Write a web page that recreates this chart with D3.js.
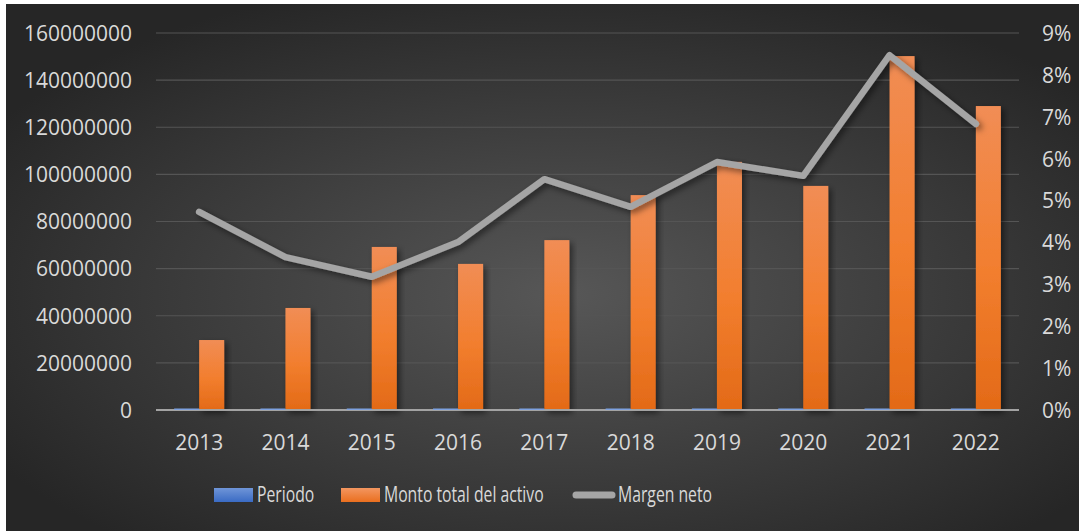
<!DOCTYPE html>
<html>
<head>
<meta charset="utf-8">
<script src="https://cdn.jsdelivr.net/npm/d3@7"></script>
<style>
  html, body { margin: 0; padding: 0; background: #fff; }
  svg { display: block; }
  text { font-family: "Open Sans", "DejaVu Sans", sans-serif; }
</style>
</head>
<body>
<div class="container"></div>
<script>
const width = 1079;
const height = 531;

// datos
const years = ['2013', '2014', '2015', '2016', '2017', '2018', '2019', '2020', '2021', '2022'];
const periodo = [2013, 2014, 2015, 2016, 2017, 2018, 2019, 2020, 2021, 2022];
const montoActivo = [29700000, 43300000, 69200000, 62000000, 72100000, 91200000, 105300000, 95100000, 150200000, 129000000];
const margenNeto = [0.0473, 0.0365, 0.0318, 0.0401, 0.0551, 0.0485, 0.0592, 0.0559, 0.0847, 0.0683];
const leftTicks = [0, 20000000, 40000000, 60000000, 80000000, 100000000, 120000000, 140000000, 160000000];
const rightTicks = [0, 0.01, 0.02, 0.03, 0.04, 0.05, 0.06, 0.07, 0.08, 0.09];
const seriesNames = ['Periodo', 'Monto total del activo', 'Margen neto'];

const plot = { left: 156, right: 1019, top: 33, bottom: 410 };

const svg = d3.select('.container')
  .append('svg')
  .attr('width', width)
  .attr('height', height);

const defs = svg.append('defs');

// fondo degradado
const bg = defs.append('radialGradient')
  .attr('id', 'bg')
  .attr('cx', '52%').attr('cy', '55%').attr('r', '62%');
bg.append('stop').attr('offset', '0%').attr('stop-color', '#575757');
bg.append('stop').attr('offset', '100%').attr('stop-color', '#262626');

const barGrad = defs.append('linearGradient')
  .attr('id', 'barGrad')
  .attr('x1', 0).attr('y1', 0).attr('x2', 0).attr('y2', 1);
barGrad.append('stop').attr('offset', '0%').attr('stop-color', '#f18d55');
barGrad.append('stop').attr('offset', '55%').attr('stop-color', '#f27e2e');
barGrad.append('stop').attr('offset', '100%').attr('stop-color', '#e36a17');

const blueGrad = defs.append('linearGradient')
  .attr('id', 'blueGrad')
  .attr('x1', 0).attr('y1', 0).attr('x2', 0).attr('y2', 1);
blueGrad.append('stop').attr('offset', '0%').attr('stop-color', '#6f95d8');
blueGrad.append('stop').attr('offset', '100%').attr('stop-color', '#3a6bc4');

const legendBarGrad = defs.append('linearGradient')
  .attr('id', 'legendBarGrad')
  .attr('x1', 0).attr('y1', 0).attr('x2', 0).attr('y2', 1);
legendBarGrad.append('stop').attr('offset', '0%').attr('stop-color', '#f39660');
legendBarGrad.append('stop').attr('offset', '100%').attr('stop-color', '#ea6f1f');

const shadow = defs.append('filter')
  .attr('id', 'shadow')
  .attr('x', '-30%').attr('y', '-30%').attr('width', '160%').attr('height', '160%');
shadow.append('feDropShadow')
  .attr('dx', 3).attr('dy', 3)
  .attr('stdDeviation', 3)
  .attr('flood-color', '#000')
  .attr('flood-opacity', 0.5);

svg.append('rect')
  .attr('x', 6).attr('y', 4)
  .attr('width', width - 6).attr('height', height - 4)
  .attr('fill', 'url(#bg)');

// escalas
const x = d3.scaleBand()
  .domain(years)
  .range([plot.left, plot.right]);

const barW = x.bandwidth() * 0.29;
const x1 = d3.scaleBand()
  .domain(['periodo', 'monto'])
  .range([-barW, barW]);

const yLeft = d3.scaleLinear()
  .domain([0, 160000000])
  .range([plot.bottom, plot.top]);

const yRight = d3.scaleLinear()
  .domain([0, 0.09])
  .range([plot.bottom, plot.top]);

const labelColor = '#d9d9d9';

// lineas de division
svg.append('g')
  .selectAll('line')
  .data(leftTicks.slice(1))
  .join('line')
  .attr('x1', plot.left).attr('x2', plot.right)
  .attr('y1', d => yLeft(d)).attr('y2', d => yLeft(d))
  .attr('stroke', '#555555')
  .attr('stroke-width', 1.2);

// eje izquierdo
const axisLeft = svg.append('g')
  .attr('transform', `translate(${plot.left - 24},0)`)
  .call(d3.axisLeft(yLeft).tickValues(leftTicks).tickFormat(d3.format('d')).tickSize(0).tickPadding(0));
axisLeft.select('.domain').remove();
axisLeft.selectAll('text')
  .attr('fill', labelColor)
  .attr('font-size', '21px')
  .attr('dy', '0.35em');

// eje derecho
const axisRight = svg.append('g')
  .attr('transform', `translate(${plot.right + 23},0)`)
  .call(d3.axisRight(yRight).tickValues(rightTicks).tickFormat(d3.format('.0%')).tickSize(0).tickPadding(0));
axisRight.select('.domain').remove();
axisRight.selectAll('text')
  .attr('fill', labelColor)
  .attr('font-size', '21px')
  .attr('dy', '0.35em');

// eje x
const axisBottom = svg.append('g')
  .attr('transform', `translate(0,${plot.bottom + 25})`)
  .call(d3.axisBottom(x).tickSize(0).tickPadding(0));
axisBottom.select('.domain').remove();
axisBottom.selectAll('text')
  .attr('fill', labelColor)
  .attr('font-size', '21px')
  .attr('dy', '0.7em');

// barras monto
svg.append('g')
  .selectAll('rect')
  .data(montoActivo)
  .join('rect')
  .attr('x', (d, i) => x(years[i]) + x.bandwidth() / 2 + x1('monto'))
  .attr('y', d => yLeft(d))
  .attr('width', x1.bandwidth())
  .attr('height', d => yLeft(0) - yLeft(d))
  .attr('fill', 'url(#barGrad)')
  .attr('filter', 'url(#shadow)');

// linea base
svg.append('line')
  .attr('x1', plot.left).attr('x2', plot.right)
  .attr('y1', yLeft(0)).attr('y2', yLeft(0))
  .attr('stroke', '#a3a3a3')
  .attr('stroke-width', 2.2);

// barras periodo (casi cero en esta escala)
svg.append('g')
  .selectAll('rect')
  .data(periodo)
  .join('rect')
  .attr('x', (d, i) => x(years[i]) + x.bandwidth() / 2 + x1('periodo'))
  .attr('y', d => Math.min(yLeft(d), yLeft(0) - 1.5))
  .attr('width', x1.bandwidth())
  .attr('height', d => Math.max(yLeft(0) - yLeft(d), 1.5))
  .attr('fill', '#7da1e0');

// linea margen neto
const line = d3.line()
  .x((d, i) => x(years[i]) + x.bandwidth() / 2)
  .y(d => yRight(d));

svg.append('path')
  .datum(margenNeto)
  .attr('d', line)
  .attr('fill', 'none')
  .attr('stroke', '#a5a5a5')
  .attr('stroke-width', 6.5)
  .attr('stroke-linecap', 'round')
  .attr('stroke-linejoin', 'round')
  .attr('filter', 'url(#shadow)');

// leyenda (texto algo comprimido como en el original)
const legenda = svg.append('g')
  .attr('class', 'legenda');

function legendText(xPos, label) {
  legenda.append('text')
    .attr('transform', `translate(${xPos},495) scale(0.75,1)`)
    .attr('dy', '0.35em')
    .attr('fill', labelColor)
    .attr('font-size', '21px')
    .text(label);
}

legenda.append('rect')
  .attr('x', 214).attr('y', 488)
  .attr('width', 39).attr('height', 14)
  .attr('fill', 'url(#blueGrad)');
legendText(257, seriesNames[0]);

legenda.append('rect')
  .attr('x', 341).attr('y', 488)
  .attr('width', 39).attr('height', 14)
  .attr('fill', 'url(#legendBarGrad)');
legendText(384, seriesNames[1]);

legenda.append('line')
  .attr('x1', 576).attr('x2', 612)
  .attr('y1', 495).attr('y2', 495)
  .attr('stroke', '#a5a5a5')
  .attr('stroke-width', 7)
  .attr('stroke-linecap', 'round');
legendText(618, seriesNames[2]);
</script>
</body>
</html>
